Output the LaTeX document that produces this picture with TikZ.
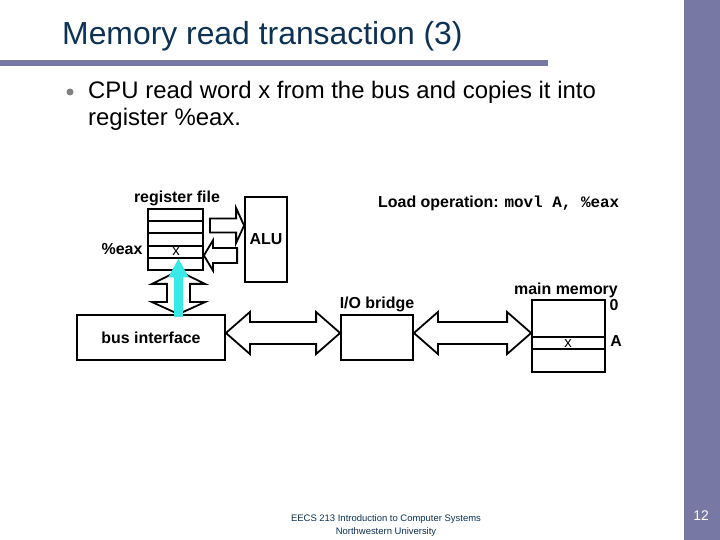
\documentclass[tikz,border=0pt]{standalone}
\usepackage{fontspec}
\setmainfont{Liberation Sans}
\setmonofont{Liberation Mono}
\usetikzlibrary{calc,arrows.meta}
\definecolor{slidebar}{RGB}{119,121,164}
\definecolor{titleblue}{RGB}{14,50,84}
\definecolor{readcyan}{RGB}{58,232,232}

\begin{document}
\begin{tikzpicture}[x=1bp,y=1bp,
  box/.style={draw, line width=1.8bp, inner sep=0pt},
  lbl/.style={inner sep=0pt, font=\fontsize{16}{19}\selectfont\bfseries},
  word/.style={inner sep=0pt, font=\fontsize{15}{18}\selectfont},
  fat/.style={draw, fill=white, line width=1.8bp, line join=miter}]
\useasboundingbox (0,0) rectangle (720,540);

% slide frame
\fill[slidebar] (684,0) rectangle (720,540);
\fill[slidebar] (0,474) rectangle (548,480);
\node[anchor=base west, inner sep=0pt, text=titleblue, font=\fontsize{32}{38}\selectfont] (title) at (62,495) {Memory read transaction (3)};
\fill[gray] (70,448) circle (3.5);
\node[anchor=base west, inner sep=0pt, font=\fontsize{24}{28}\selectfont] (line1) at (88,441) {CPU read word x from the bus and copies it into};
\node[anchor=base west, inner sep=0pt, font=\fontsize{24}{28}\selectfont] (line2) at (88,414) {register \%eax.};

% CPU
\node[box, minimum width=55bp, minimum height=61bp] (regfile) at (175.5,300.5) {};
\foreach \f in {0.2,0.4,0.6,0.8}
  \draw[line width=1.8bp] ($(regfile.north west)!\f!(regfile.south west)$) -- ($(regfile.north east)!\f!(regfile.south east)$);
\node[lbl, anchor=base] (reglbl) at (177,337) {register file};
\node[lbl, anchor=base] (eaxlbl) at (122,285) {\%eax};
\node[word, anchor=base] (regx) at (176,284) {x};
\node[box, lbl, minimum width=42bp, minimum height=85bp] (alu) at (266,300.5) {ALU};
\node[box, lbl, minimum width=148bp, minimum height=45bp] (bus) at (151,202.5) {bus interface};

% bridge and memory
\node[box, minimum width=72bp, minimum height=45bp] (bridge) at (377,202.5) {};
\node[lbl, anchor=base] (bridgelbl) at (377,231) {I/O bridge};
\node[box, minimum width=73bp, minimum height=72bp] (mem) at (568.5,204) {};
\foreach \f in {0.51,0.68}
  \draw[line width=1.8bp] ($(mem.north west)!\f!(mem.south west)$) -- ($(mem.north east)!\f!(mem.south east)$);
\node[lbl, anchor=base] (memlbl) at (566,245) {main memory};
\node[word, anchor=base] (memx) at (568,192) {x};
\node[lbl, anchor=base] (addr0) at (614,229.5) {0};
\node[lbl, anchor=base] (addrA) at (616,193) {A};
\node[lbl, anchor=base west] (loadop) at (378,332) {Load operation: \texttt{movl A, \%eax}};

% wide arrows
\coordinate (up0) at ([yshift=14]regfile.east);
\coordinate (up1) at ([yshift=14]alu.west);
\path[fat] ($(up0)+(6,7)$) -- ($(up1)+(-8,7)$) -- ($(up1)+(-8,17.5)$) -- (up1) -- ($(up1)+(-8,-17.5)$) -- ($(up1)+(-8,-7)$) -- ($(up0)+(6,-7)$) -- cycle;
\coordinate (dn0) at ([yshift=-16]regfile.east);
\coordinate (dn1) at ([yshift=-16]alu.west);
\path[fat] (dn0) -- ($(dn0)+(9,15)$) -- ($(dn0)+(9,7.5)$) -- ($(dn1)+(-7,7.5)$) -- ($(dn1)+(-7,-7.5)$) -- ($(dn0)+(9,-7.5)$) -- ($(dn0)+(9,-15)$) -- cycle;

\coordinate (vt) at ([xshift=3]regfile.south);
\coordinate (vb) at (vt |- bus.north);
\path[fat] (vt) -- ++(26.5,-13) -- ++(-15,0) -- ($(vb)+(11.5,12)$) -- ++(15,0) -- (vb) -- ++(-26.5,12) -- ++(15,0) -- ($(vt)+(-11.5,-13)$) -- ++(-15,0) -- cycle;

\coordinate (h0) at ([yshift=4.5]bus.east);
\coordinate (h1) at (h0 -| bridge.west);
\path[fat] (h0) -- ++(24,21) -- ++(0,-10) -- ($(h1)+(-24,11)$) -- ++(0,10) -- (h1) -- ++(-24,-21) -- ++(0,10) -- ($(h0)+(24,-11)$) -- ++(0,-10) -- cycle;
\coordinate (m0) at (h0 -| bridge.east);
\coordinate (m1) at (h0 -| mem.west);
\path[fat] (m0) -- ++(24,21) -- ++(0,-10) -- ($(m1)+(-24,11)$) -- ++(0,10) -- (m1) -- ++(-24,-21) -- ++(0,10) -- ($(m0)+(24,-11)$) -- ++(0,-10) -- cycle;

% word x travels to %eax
\coordinate (r4) at ($(regfile.north)!0.8!(regfile.south)$);
\draw[readcyan, line width=9bp, -{Triangle[length=19bp,width=19bp]}] ([yshift=-3]vb) -- (vt |- r4);

% footer
\node[anchor=base, inner sep=0pt, text=titleblue, font=\fontsize{9.5}{11}\selectfont] (foot1) at (386,18) {EECS 213 Introduction to Computer Systems};
\node[anchor=base, inner sep=0pt, text=titleblue, font=\fontsize{9.5}{11}\selectfont] (foot2) at (386,5) {Northwestern University};
\node[anchor=base, inner sep=0pt, text=white, font=\fontsize{14}{16}\selectfont] (pageno) at (701,19) {12};
\end{tikzpicture}
\end{document}
